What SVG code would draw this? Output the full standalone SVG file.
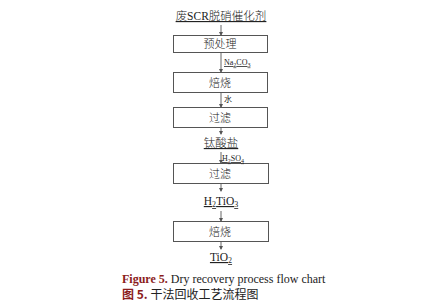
<svg xmlns="http://www.w3.org/2000/svg" width="429" height="308" viewBox="0 0 429 308">
<defs>
<marker id="ah" markerWidth="4" markerHeight="4" refX="3" refY="2" orient="auto" markerUnits="userSpaceOnUse"><path d="M0,0 L4,2 L0,4 z" fill="#555"/></marker>
<style>
.box{fill:#fff;stroke:#555;stroke-width:1}
.cn{font-family:"Noto Sans CJK SC","Liberation Sans",sans-serif;font-size:11px;font-weight:300;fill:#222;text-anchor:middle}
.lbl{font-family:"Liberation Serif","Noto Sans CJK SC",serif;font-size:11.5px;font-weight:300;fill:#222;text-anchor:middle;text-decoration:underline}
.sm{font-family:"Liberation Serif","Noto Sans CJK SC",serif;font-size:8px;fill:#222}
.ln{stroke:#666;stroke-width:1;fill:none}
</style>
</defs>
<rect width="429" height="308" fill="#fff"/>
<g id="n0"><text class="lbl" x="221" y="20">废SCR脱硝催化剂</text></g>
<g id="n1"><rect class="box" x="173.5" y="35.5" width="94" height="17"/><text class="cn" x="220" y="48">预处理</text></g>
<g id="n2"><rect class="box" x="173.5" y="72.5" width="94" height="20"/><text class="cn" x="220" y="86.5">焙烧</text></g>
<g id="n3"><rect class="box" x="173.5" y="107.5" width="94" height="20"/><text class="cn" x="220" y="121.5">过滤</text></g>
<g id="n4"><text class="lbl" x="221" y="147">钛酸盐</text></g>
<g id="n5"><rect class="box" x="173.5" y="163.5" width="95" height="20"/><text class="cn" x="220" y="177.5">过滤</text></g>
<g id="n6"><text class="lbl" x="221" y="205" font-size="12">H<tspan font-size="8" dy="2">2</tspan><tspan dy="-2">TiO</tspan><tspan font-size="8" dy="2">3</tspan></text></g>
<g id="n7"><rect class="box" x="173.5" y="221.5" width="95" height="20"/><text class="cn" x="220" y="235.5">焙烧</text></g>
<g id="n8"><text class="lbl" x="221" y="261" font-size="12">TiO<tspan font-size="8" dy="2">2</tspan></text></g>
<g id="connectors">
<line class="ln" x1="221" y1="25" x2="221" y2="35" marker-end="url(#ah)"/>
<line class="ln" x1="221" y1="53" x2="221" y2="72" marker-end="url(#ah)"/>
<text class="sm" x="224" y="65" text-decoration="underline">Na<tspan font-size="6" dy="1.5">2</tspan><tspan dy="-1.5">CO</tspan><tspan font-size="6" dy="1.5">3</tspan></text>
<line class="ln" x1="221" y1="93" x2="221" y2="107" marker-end="url(#ah)"/>
<text class="sm" x="224" y="102" font-family="Noto Sans CJK SC">水</text>
<line class="ln" x1="221" y1="128" x2="221" y2="134" marker-end="url(#ah)"/>
<line class="ln" x1="221" y1="152" x2="221" y2="163" marker-end="url(#ah)"/>
<text class="sm" x="222" y="161" text-decoration="underline">H<tspan font-size="6" dy="1.5">2</tspan><tspan dy="-1.5">SO</tspan><tspan font-size="6" dy="1.5">4</tspan></text>
<line class="ln" x1="221" y1="184" x2="221" y2="191" marker-end="url(#ah)"/>
<line class="ln" x1="221" y1="211" x2="221" y2="221" marker-end="url(#ah)"/>
<line class="ln" x1="221" y1="242" x2="221" y2="249" marker-end="url(#ah)"/>
</g>
<g id="caption">
<text x="122" y="283" font-family="Liberation Serif,serif" font-size="12" fill="#222"><tspan fill="#8b1c1c" font-weight="bold">Figure 5.</tspan> Dry recovery process flow chart</text>
<text x="122" y="299" font-family="Noto Sans CJK SC,sans-serif" font-size="12" fill="#222"><tspan fill="#8b1c1c" font-weight="bold">图 5.</tspan> 干法回收工艺流程图</text>
</g>
</svg>
